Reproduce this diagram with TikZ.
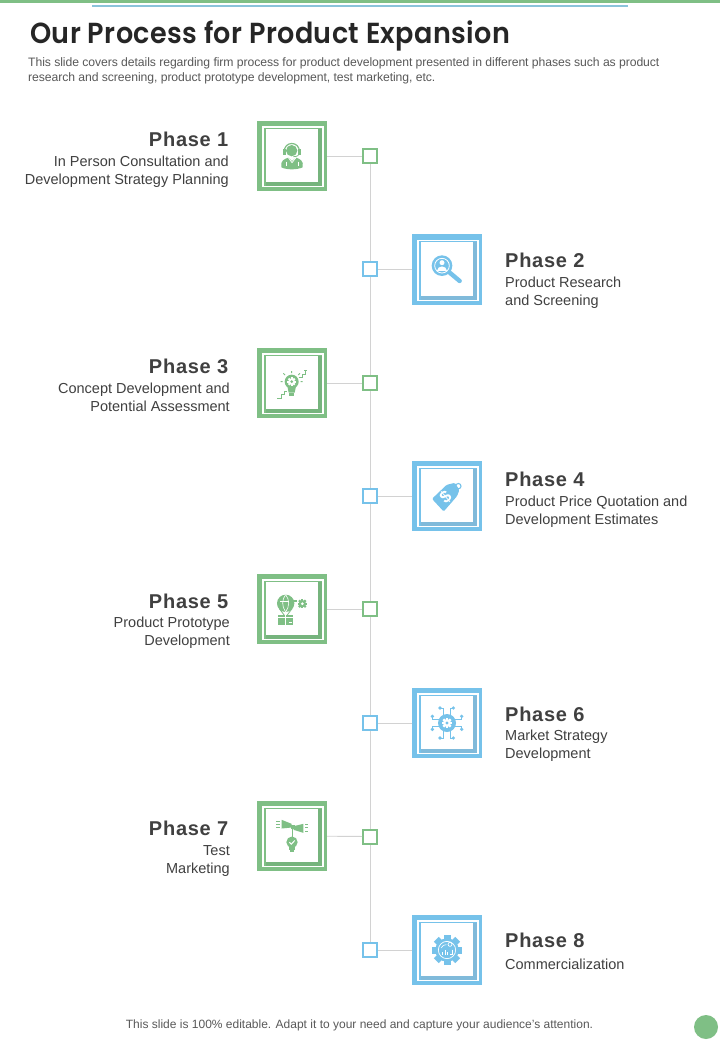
\documentclass[tikz,border=0pt]{standalone}
\usepackage{fontspec}
\setmainfont{Liberation Sans}
\newfontfamily\titlefont[LetterSpace=1.5]{Poppins SemiBold}
\newfontfamily\phasefont[LetterSpace=3.7]{Liberation Sans}
\newfontfamily\descfont[LetterSpace=-.65]{Liberation Sans}
\usetikzlibrary{calc}
\definecolor{gmain}{HTML}{7FBF85}
\definecolor{gdark}{HTML}{76B47D}
\definecolor{bmain}{HTML}{76C2EA}
\definecolor{bdark}{HTML}{80BADA}
\definecolor{ruleblue}{HTML}{8AC3DA}
\definecolor{inkdark}{HTML}{262626}
\definecolor{inkmid}{HTML}{404040}
\definecolor{inkdesc}{HTML}{595959}
\definecolor{wire}{HTML}{D2D2D2}
\tikzset{
  phasebox/.style={rectangle,minimum size=70pt,inner sep=0pt,outer sep=0pt,fill=#1},
  marker/.style={rectangle,minimum size=14pt,inner sep=0pt,outer sep=1pt,draw=#1,line width=2pt,fill=white},
  wireline/.style={wire,line width=.9pt},
  head/.style={font=\phasefont\fontsize{20}{22}\selectfont\bfseries,text=inkmid,inner sep=0pt},
  sideleft/.style={font=\fontsize{14.5}{18}\selectfont,text=inkmid,inner sep=0pt,align=right},
  sideright/.style={font=\fontsize{14.5}{18}\selectfont,text=inkmid,inner sep=0pt,align=left},
  icon/.style={x=.33333pt,y=-.33333pt}
}
% frame inside a box: shadow, white hairline, white panel (relative to box centre)
\newcommand{\panelframe}[3]{%
  \begin{scope}[shift={(#1.center)}]
    \fill[#3] (-26,-27) rectangle (30.5,30);
    \draw[white,line width=1.2pt] (-29,-29) rectangle (31,30.7);
    \fill[white] (-26,-27) rectangle (26,26);
  \end{scope}}
\newcommand{\cog}[4]{% x y r colour
  \fill[#4] (#1,#2) circle[radius=#3];
  \foreach \a in {0,45,...,315}{\draw[#4,line width=.2*#3pt] ([shift={(#1,#2)}]\a:#3*.8) -- ([shift={(#1,#2)}]\a:#3*1.3);}}
\begin{document}
\begin{tikzpicture}[x=1pt,y=-1pt]
\useasboundingbox (0,0) rectangle (720,1040);
\fill[white] (0,0) rectangle (720,1040);
\fill[gmain] (0,0) rectangle (720,2.6);
\fill[ruleblue] (92,5) rectangle (628,7);

\node[anchor=west,inner sep=0pt,xscale=.932,text=inkdark,font=\titlefont\fontsize{29}{32}\selectfont] (title) at (30,36) {Our Process for Product Expansion};
\node[anchor=north west,inner sep=0pt,text=inkdesc,font=\descfont\fontsize{12.2}{15}\selectfont,align=left] (desc) at (28,57) {This slide covers details regarding firm process for product development presented in different phases such as product\\research and screening, product prototype development, test marketing, etc.};

% boxes and markers
\node[phasebox=gmain] (b1) at (292,156) {};
\node[phasebox=bmain] (b2) at (447,269.5) {};
\node[phasebox=gmain] (b3) at (292,383) {};
\node[phasebox=bmain] (b4) at (447,496) {};
\node[phasebox=gmain] (b5) at (292,609) {};
\node[phasebox=bmain] (b6) at (447,723) {};
\node[phasebox=gmain] (b7) at (292,836) {};
\node[phasebox=bmain] (b8) at (447,950) {};
\panelframe{b1}{gmain}{gdark}
\panelframe{b2}{bmain}{bdark}
\panelframe{b3}{gmain}{gdark}
\panelframe{b4}{bmain}{bdark}
\panelframe{b5}{gmain}{gdark}
\panelframe{b6}{bmain}{bdark}
\panelframe{b7}{gmain}{gdark}
\panelframe{b8}{bmain}{bdark}

\node[marker=gmain] (m1) at (370,156) {};
\node[marker=bmain] (m2) at (370,269.5) {};
\node[marker=gmain] (m3) at (370,383) {};
\node[marker=bmain] (m4) at (370,496) {};
\node[marker=gmain] (m5) at (370,609) {};
\node[marker=bmain] (m6) at (370,723) {};
\node[marker=gmain] (m7) at (370,836.5) {};
\node[marker=bmain] (m8) at (370,950) {};

\foreach \i in {1,...,8}{\draw[wireline] (b\i) -- (m\i);}
\foreach \i/\j in {1/2,2/3,3/4,4/5,5/6,6/7,7/8}{\draw[wireline] (m\i) -- (m\j);}

% texts
\node[head,anchor=east] (h1) at (228.5,139.5) {Phase 1};
\node[sideleft,anchor=north east] (t1) at (229,156) {In Person Consultation and\\Development Strategy Planning};
\node[head,anchor=west] (h2) at (505,260.5) {Phase 2};
\node[sideright,anchor=north west] (t2) at (505,277) {Product Research\\and Screening};
\node[head,anchor=east] (h3) at (228.5,366.5) {Phase 3};
\node[sideleft,anchor=north east] (t3) at (230,383) {Concept Development and\\Potential Assessment};
\node[head,anchor=west] (h4) at (505,479.5) {Phase 4};
\node[sideright,anchor=north west] (t4) at (505,496) {Product Price Quotation and\\Development Estimates};
\node[head,anchor=east] (h5) at (228.5,601.5) {Phase 5};
\node[sideleft,anchor=north east] (t5) at (230,617) {Product Prototype\\Development};
\node[head,anchor=west] (h6) at (505,714.5) {Phase 6};
\node[sideright,anchor=north west] (t6) at (505,730) {Market Strategy\\Development};
\node[head,anchor=east] (h7) at (228.5,828.5) {Phase 7};
\node[sideleft,anchor=north east] (t7) at (230,845) {Test\\Marketing};
\node[head,anchor=west] (h8) at (505,940.5) {Phase 8};
\node[sideright,anchor=north west] (t8) at (505,959) {Commercialization};

\node[inner sep=0pt,text=inkdesc,font=\fontsize{12}{14}\selectfont] (foot) at (359.5,1025.5) {This slide is 100\% editable. Adapt it to your need and capture your audience’s attention.};
\node[circle,fill=gmain,minimum size=24pt,inner sep=0pt] (dot) at (706,1027) {};

% ---------- icon 1: agent
\begin{scope}[shift={(b1.center)},xshift=-52pt,yshift=46pt,icon]
  \fill[gmain] (155,122) circle[radius=17];
  \draw[gmain,line width=1.2pt] (133,126) .. controls (131,92) and (180,92) .. (178,126);
  \draw[gmain,line width=.8pt] (178,126) .. controls (178,138) and (170,140) .. (160,140);
  \fill[gmain] (130,118) rectangle (137,134);
  \fill[gmain] (175,118) rectangle (182,134);
  \fill[gmain] (124,172) .. controls (120,152) and (133,147) .. (145,143) -- (156,153) -- (168,143) .. controls (180,147) and (192,152) .. (188,172) .. controls (170,180) and (140,180) .. (124,172);
  \draw[white,line width=.7pt] (145,143) -- (156,158) -- (168,143);
  \draw[white,line width=.7pt] (138,155) -- (138,168) (174,155) -- (174,168);
\end{scope}
% ---------- icon 2: magnifier
\begin{scope}[shift={(b2.center)},xshift=-97pt,yshift=44.5pt,icon]
  \draw[bmain,line width=4.4pt,line cap=round] (298,142) -- (329,168);
  \fill[bmain] (276,122) circle[radius=31];
  \draw[white,line width=.8pt] (276,122) circle[radius=22];
  \fill[white] (276,113) circle[radius=7.5];
  \fill[white] (261,137) .. controls (261,121) and (291,121) .. (291,137) -- cycle;
\end{scope}
% ---------- icon 3: bulb with steps
\begin{scope}[shift={(b3.center)},xshift=-42pt,yshift=43pt,icon]
  \fill[gmain] (125,125) circle[radius=21];
  \fill[gmain] (112,138) -- (138,138) -- (134,158) -- (116,158) -- cycle;
  \fill[gmain] (117,160) rectangle (133,167);
  \cog{125}{125}{10}{white}
  \fill[gmain] (125,125) circle[radius=4.5];
  \draw[gmain,line width=.9pt] (125,99) -- (125,93) (105,105) -- (100,100) (145,105) -- (150,100) (98,125) -- (92,125) (152,125) -- (158,125);
  \draw[gmain,line width=.9pt] (82,174) -- (94,174) -- (94,164) -- (104,164) -- (104,154) -- (112,154);
  \draw[gmain,line width=.9pt] (146,112) -- (156,112) -- (156,102) -- (166,102) -- (166,90);
  \draw[gmain,line width=.9pt] (162,92) -- (170,92);
\end{scope}
% ---------- icon 4: price tag
\begin{scope}[shift={(b4.center)},xshift=-42pt,yshift=40.5pt,icon]
  \draw[bmain,line width=1.1pt] (160,92) circle[radius=8];
  \fill[bmain,rounded corners=1.2pt] (81,130) -- (125,88) -- (150,82) -- (163,104) -- (156,122) -- (116,168) -- cycle;
  \node[rotate=40,text=white,font=\fontsize{17}{17}\selectfont\bfseries,inner sep=0pt] (dollar) at (122,125) {\$};
\end{scope}
% ---------- icon 5: balloon with parcel and cog
\begin{scope}[shift={(b5.center)},xshift=-42pt,yshift=41pt,icon]
  \fill[gmain] (107,106) circle[radius=26];
  \draw[white,line width=.6pt] (107,80) .. controls (95,95) and (95,115) .. (107,132);
  \draw[white,line width=.6pt] (107,80) .. controls (119,95) and (119,115) .. (107,132);
  \draw[gmain,line width=.8pt] (88,122) -- (103,142) (126,122) -- (111,142);
  \fill[gmain] (85,140) rectangle (130,172);
  \draw[white,line width=.6pt] (85,148) -- (130,148) (107,140) -- (107,172);
  \draw[white,line width=.6pt] (116,163) -- (125,163);
  \draw[white,line width=.8pt] (90,100) -- (125,100);
  \fill[gmain] (118,97) rectangle (142,103);
  \cog{157}{107}{11}{gmain}
  \fill[white] (157,107) circle[radius=4.5];
\end{scope}
% ---------- icon 6: circuit cog
\begin{scope}[shift={(b6.center)},xshift=-42pt,yshift=41pt,icon]
  \draw[bmain,line width=1pt] (116,100) -- (116,78) -- (105,78) (136,100) -- (136,78) -- (145,78)
    (102,112) -- (82,112) -- (82,103) (102,133) -- (82,133) -- (82,142)
    (150,112) -- (170,112) -- (170,103) (150,133) -- (170,133) -- (170,142)
    (116,146) -- (116,168) -- (105,168) (136,146) -- (136,168) -- (145,168);
  \foreach \p in {(105,78),(145,78),(82,103),(82,142),(170,103),(170,142),(105,168),(145,168)}{\fill[bmain] \p circle[radius=5.5];}
  \fill[bmain] (126,123) circle[radius=27];
  \cog{126}{123}{12}{white}
  \fill[bmain] (126,123) circle[radius=5];
\end{scope}
% ---------- icon 7: megaphones over bulb
\begin{scope}[shift={(b7.center)},xshift=-42pt,yshift=41.5pt,icon]
  \fill[gmain] (95,76) -- (125,88) -- (125,99) -- (95,102) -- cycle;
  \fill[gmain] (160,88) -- (131,95) -- (131,106) -- (160,115) -- cycle;
  \fill[gmain] (122,90) rectangle (134,102);
  \draw[gmain,line width=.8pt] (78,80) -- (90,80) (78,89) -- (90,89) (78,98) -- (90,98);
  \draw[gmain,line width=.8pt] (165,90) -- (174,90) (165,100) -- (174,100) (165,110) -- (174,110);
  \draw[gmain,line width=.9pt] (126,100) -- (126,128);
  \fill[gmain] (126,143) circle[radius=17];
  \fill[gmain] (117,154) rectangle (135,165);
  \fill[gmain] (120,167) rectangle (132,173);
  \draw[white,line width=1pt] (118,143) -- (124,149) -- (134,138);
\end{scope}
% ---------- icon 8: cog with chart
\begin{scope}[shift={(b8.center)},xshift=-42pt,yshift=42pt,icon]
  \cog{126}{126}{35}{bmain}
  \draw[white,line width=.7pt] (126,126) circle[radius=26];
  \draw[white,line width=.7pt] (135,109) circle[radius=6];
  \draw[white,line width=.8pt] (112,142) -- (112,132) (120,142) -- (120,126) (128,142) -- (128,133);
  \draw[white,line width=.6pt] (108,120) .. controls (112,112) and (118,110) .. (124,110);
  \draw[white,line width=.6pt] (142,125) -- (142,140) -- (136,140);
\end{scope}
\end{tikzpicture}
\end{document}
